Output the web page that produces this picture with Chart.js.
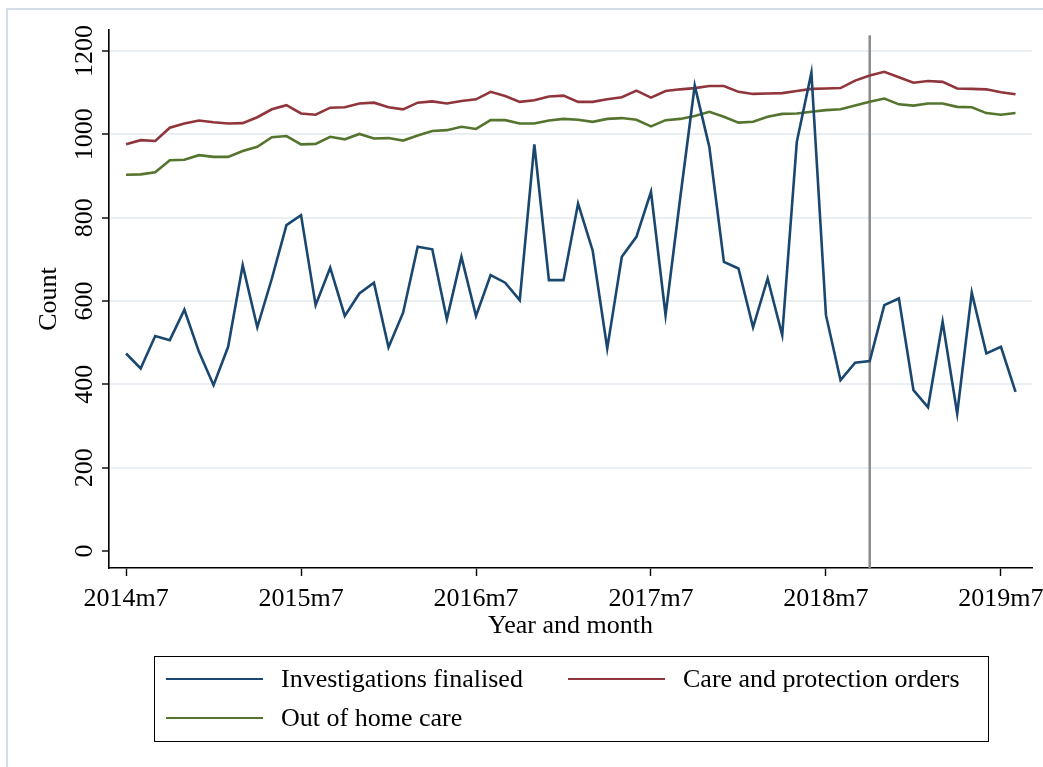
<!DOCTYPE html>
<html>
<head>
<meta charset="utf-8">
<script src="https://cdn.jsdelivr.net/npm/chart.js@4.4.1/dist/chart.umd.min.js"></script>
<style>
  html, body { margin: 0; padding: 0; background: #fff; }
  #wrap { position: relative; width: 1043px; height: 767px; overflow: hidden; }
  #frame { position: absolute; left: 6px; top: 8px; width: 1100px; height: 800px;
    border-left: 2px solid #d4dde7; border-top: 2px solid #d4dde7; }
  #legend { position: absolute; left: 154px; top: 656px; width: 833px; height: 84px;
    border: 1.5px solid #000; font-family: "Liberation Serif", serif; font-size: 26px; color: #000; }
  .item { position: absolute; display: flex; align-items: center; }
  .item .swatch { width: 97px; height: 2.5px; margin-right: 18px; }
</style>
</head>
<body>
<div id="wrap">
  <div id="frame"></div>
  <canvas id="c"></canvas>
  <div id="legend"></div>
</div>
<script>
/* Monthly counts 2014m7 - 2019m8, Stata-style line chart. */

const months = ["2014m7","2014m8","2014m9","2014m10","2014m11","2014m12",
  "2015m1","2015m2","2015m3","2015m4","2015m5","2015m6","2015m7","2015m8","2015m9","2015m10","2015m11","2015m12",
  "2016m1","2016m2","2016m3","2016m4","2016m5","2016m6","2016m7","2016m8","2016m9","2016m10","2016m11","2016m12",
  "2017m1","2017m2","2017m3","2017m4","2017m5","2017m6","2017m7","2017m8","2017m9","2017m10","2017m11","2017m12",
  "2018m1","2018m2","2018m3","2018m4","2018m5","2018m6","2018m7","2018m8","2018m9","2018m10","2018m11","2018m12",
  "2019m1","2019m2","2019m3","2019m4","2019m5","2019m6","2019m7","2019m8"];

const investigations = [474, 438, 516, 506, 579, 478, 398, 490, 686, 537, 654, 782, 806, 590, 680, 564,
  618, 644, 489, 572, 730, 724, 556, 706, 564, 662, 644, 602, 976, 650, 650, 834, 721, 486, 706, 754,
  862, 566, 846, 1117, 970, 694, 678, 537, 654, 518, 982, 1148, 566, 410, 452, 456, 590, 606, 386, 345,
  550, 330, 620, 474, 490, 382];

const careOrders = [976, 986, 984, 1016, 1026, 1033, 1029, 1026, 1027, 1041, 1060, 1070, 1050, 1047, 1064,
  1065, 1074, 1076, 1065, 1060, 1076, 1079, 1074, 1080, 1084, 1102, 1092, 1078, 1082, 1091, 1093, 1078,
  1078, 1084, 1089, 1105, 1088, 1104, 1108, 1111, 1116, 1116, 1102, 1097, 1098, 1099, 1104, 1109, 1110,
  1111, 1129, 1141, 1150, 1137, 1124, 1128, 1126, 1110, 1109, 1108, 1101, 1096];

const outOfHome = [903, 904, 909, 938, 939, 950, 946, 946, 960, 970, 993, 996, 976, 977, 994, 988, 1001,
  990, 991, 985, 997, 1008, 1010, 1018, 1013, 1034, 1034, 1026, 1026, 1033, 1037, 1035, 1030, 1037, 1039,
  1035, 1019, 1034, 1037, 1044, 1054, 1042, 1028, 1030, 1042, 1049, 1050, 1054, 1058, 1060, 1069, 1078,
  1086, 1072, 1069, 1074, 1074, 1066, 1065, 1051, 1047, 1051];

const xTickLabels = ["2014m7", "2015m7", "2016m7", "2017m7", "2018m7", "2019m7"];
const yTicks = [0, 200, 400, 600, 800, 1000, 1200];
const markMonth = "2018m10";   // vertical reference line
const markTop = 1238;

const SERIES = [
  { label: "Investigations finalised", data: investigations, color: "#1a476f" },
  { label: "Care and protection orders", data: careOrders, color: "#90353b" },
  { label: "Out of home care", data: outOfHome, color: "#55752f" },
];

const FONT = { family: "'Liberation Serif', 'Times New Roman', serif", size: 26 };
const xTickPos = xTickLabels.map((l) => months.indexOf(l));

const refLine = {
  id: "refLine",
  beforeDatasetsDraw(chart) {
    const { ctx, chartArea, scales: { x, y } } = chart;
    const px = x.getPixelForValue(months.indexOf(markMonth));
    ctx.save();
    ctx.strokeStyle = "#8c8c8c";
    ctx.lineWidth = 2.5;
    ctx.beginPath();
    ctx.moveTo(px, y.getPixelForValue(markTop));
    ctx.lineTo(px, chartArea.bottom);
    ctx.stroke();
    ctx.restore();
  },
};

new Chart(document.getElementById("c"), {
  type: "line",
  data: {
    datasets: SERIES.map((s) => ({
      label: s.label,
      data: s.data.map((v, i) => ({ x: i, y: v })),
      borderColor: s.color,
      backgroundColor: s.color,
      borderWidth: 2.6,
      pointRadius: 0,
      tension: 0,
    })),
  },
  options: {
    responsive: true,
    maintainAspectRatio: false,
    animation: false,
    layout: { padding: { left: 0, top: 30, right: 11, bottom: 125 } },
    plugins: { legend: { display: false }, tooltip: { enabled: false } },
    scales: {
      x: {
        type: "linear",
        min: -1.17,
        max: 62.13,
        afterBuildTicks: (s) => { s.ticks = xTickPos.map((v) => ({ value: v })); },
        afterFit: (s) => { s.height = 74; s.paddingLeft = 0; s.paddingRight = 0; },
        ticks: {
          color: "#000", font: FONT, padding: 8, maxRotation: 0, autoSkip: false,
          callback: (v) => xTickLabels[xTickPos.indexOf(v)],
        },
        grid: { drawOnChartArea: false, drawTicks: true, tickLength: 8, tickColor: "#000", tickWidth: 1.4 },
        border: { display: true, color: "#000", width: 1.6 },
        title: { display: true, text: "Year and month", color: "#000", font: FONT, padding: { top: 0, bottom: 0 } },
      },
      y: {
        min: -40.8,
        max: 1250.4,
        afterBuildTicks: (s) => { s.ticks = yTicks.map((v) => ({ value: v })); },
        afterFit: (s) => { s.width = 109; s.paddingTop = 0; s.paddingBottom = 0; },
        ticks: {
          color: "#000", font: FONT, minRotation: 90, maxRotation: 90,
          crossAlign: "center", padding: -9, autoSkip: false,
          callback: (v) => String(v),
        },
        grid: {
          color: (c) => (c.tick && c.tick.value === 0 ? "rgba(0,0,0,0)" : "#e9eff3"),
          lineWidth: 2, tickLength: 7, tickColor: "#000", tickWidth: 1.4,
        },
        border: { display: true, color: "#000", width: 1.6 },
        title: { display: true, text: "Count", color: "#000", font: FONT, padding: { top: 34, bottom: 0 } },
      },
    },
  },
  plugins: [refLine],
});

// Legend (boxed, two columns like the Stata output)
const slots = [{ left: 11, top: 22 }, { left: 413, top: 22 }, { left: 11, top: 61 }];
document.getElementById("legend").innerHTML = SERIES.map((s, i) => `
  <div class="item" style="left:${slots[i].left}px; top:${slots[i].top - 17}px; height:34px;">
    <div class="swatch" style="background:${s.color}"></div><span>${s.label}</span>
  </div>`).join("");
</script>
</body>
</html>
